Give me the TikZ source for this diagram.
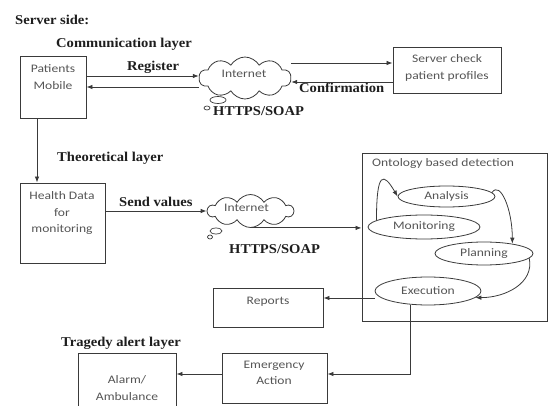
\documentclass[tikz,border=0pt]{standalone}
\usepackage{fontspec}
\setmainfont{Carlito}[FakeStretch=1.18]
\newfontfamily\labfont{Liberation Serif}[FakeStretch=1.08]
\usetikzlibrary{arrows.meta,shapes.geometric,shapes.symbols}
\definecolor{lncol}{HTML}{3A3A3A}
\definecolor{txcol}{HTML}{555555}
\definecolor{lbcol}{HTML}{1E1E1E}
\begin{document}
\begin{tikzpicture}[x=1pt,y=-1pt,
  box/.style={draw=lncol,line width=0.9pt,rectangle,inner sep=0},
  txt/.style={text=txcol,font=\fontsize{11.5}{16.5}\selectfont,align=center,inner sep=0},
  lab/.style={text=lbcol,font=\labfont\bfseries\fontsize{13.5}{16}\selectfont,inner sep=0,anchor=base west},
  ell/.style={draw=lncol,line width=0.8pt,ellipse,inner sep=0,text=txcol,font=\fontsize{11.5}{14}\selectfont},
  cld/.style={draw=lncol,line width=0.8pt,cloud,cloud puffs=10,cloud puff arc=120,cloud ignores aspect,inner sep=0},
  bub/.style={draw=lncol,line width=0.7pt,ellipse,inner sep=0},
  arr/.style={draw=lncol,line width=0.8pt,-{Latex[length=6pt,width=4.5pt]}},
  plain/.style={draw=lncol,line width=0.8pt}]
\path[use as bounding box] (0,0) rectangle (549,406);

% labels
\node[lab] (lss) at (15,25) {Server side:};
\node[lab] (lcl) at (56,48) {Communication layer};
\node[lab] (lreg) at (127,71) {Register};
\node[lab] (lconf) at (299,93) {Confirmation};
\node[lab] (lh1) at (213,116) {HTTPS/SOAP};
\node[lab] (ltl) at (57,162) {Theoretical layer};
\node[lab] (lsv) at (119,207) {Send values};
\node[lab] (lh2) at (229,254) {HTTPS/SOAP};
\node[lab] (ltr) at (61,346) {Tragedy alert layer};

% boxes
\node[box,minimum width=66pt,minimum height=62pt] (pm) at (53,87) {};
\node[txt] (pmt) at (53,77) {Patients\\Mobile};
\node[box,minimum width=85pt,minimum height=80pt] (hd) at (62.5,223) {};
\node[txt] (hdt) at (62,213) {Health Data\\for\\monitoring};
\node[box,minimum width=108pt,minimum height=46pt] (sv) at (447,70) {};
\node[txt] (svt) at (447,68) {Server check\\patient profiles};
\node[box,minimum width=110pt,minimum height=39pt] (rp) at (268,307.5) {};
\node[txt] (rpt) at (268,302) {Reports};
\node[box,minimum width=105pt,minimum height=50pt] (em) at (274.5,378) {};
\node[txt] (emt) at (274,373) {Emergency\\Action};
\node[box,minimum width=98pt,minimum height=74pt] (al) at (127,390) {};
\node[txt] (alt) at (127,388) {Alarm/\\Ambulance};
\node[box,minimum width=185pt,minimum height=168pt] (onto) at (454.5,237) {};
\node[txt,anchor=base west] (ontot) at (372,167) {Ontology based detection};

% clouds
\node[cld,minimum width=92pt,minimum height=42pt] (c1) at (245,78) {};
\node[txt] (c1t) at (244,74) {Internet};
\node[bub,minimum width=16pt,minimum height=7pt] (b1) at (218,100) {};
\node[bub,minimum width=6pt,minimum height=4pt] (b2) at (207,108) {};
\node[cld,minimum width=86pt,minimum height=33pt] (c2) at (250.5,211) {};
\node[txt] (c2t) at (246.5,208) {Internet};
\node[bub,minimum width=12pt,minimum height=6pt] (b3) at (216,231) {};
\node[bub,minimum width=5pt,minimum height=4pt] (b4) at (210,237) {};

% ellipses
\node[ell,minimum width=97pt,minimum height=21pt] (an) at (446.5,196.5) {Analysis};
\node[ell,minimum width=112pt,minimum height=24pt] (mon) at (424,227) {Monitoring};
\node[ell,minimum width=98pt,minimum height=23pt] (pl) at (484,253.5) {Planning};
\node[ell,minimum width=106pt,minimum height=28pt] (ex) at (428,291) {Execution};

% connectors
\draw[arr] ([yshift=11pt]pm.east) -- ([yshift=11pt]pm.east -| c1.west);
\draw[arr] (c1.west |- pm.east) -- (pm.east);
\draw[arr] ([yshift=7pt]sv.west -| c1.east) -- ([yshift=7pt]sv.west);
\draw[arr] ([yshift=-12pt]sv.west) -- ([yshift=-12pt]sv.west -| c1.east);
\draw[arr] ([xshift=-16pt]pm.south) -- ([xshift=-16pt]pm.south |- hd.north);
\draw[arr] ([yshift=12pt]hd.east) -- ([yshift=12pt]hd.east -| c2.west);
\draw[arr] (c2.south) -- (c2.south -| onto.west);
\draw[arr] (mon.172) .. controls +(0,-50) and +(-14,-24) .. (an.west);
\draw[arr] (an.5) .. controls +(8,-12) and +(0,-35) .. (pl.19);
\draw[arr] (pl.-6) .. controls +(5,25) and +(30,0) .. (ex.-8);
\draw[arr] ([yshift=-7pt]ex.west) -- ([yshift=-7pt]ex.west -| rp.east);
\draw[arr] ([xshift=-18pt]ex.south) |- ([yshift=4pt]em.east);
\draw[arr] ([yshift=4pt]em.west) -- ([yshift=4pt]em.west -| al.east);
\end{tikzpicture}
\end{document}
